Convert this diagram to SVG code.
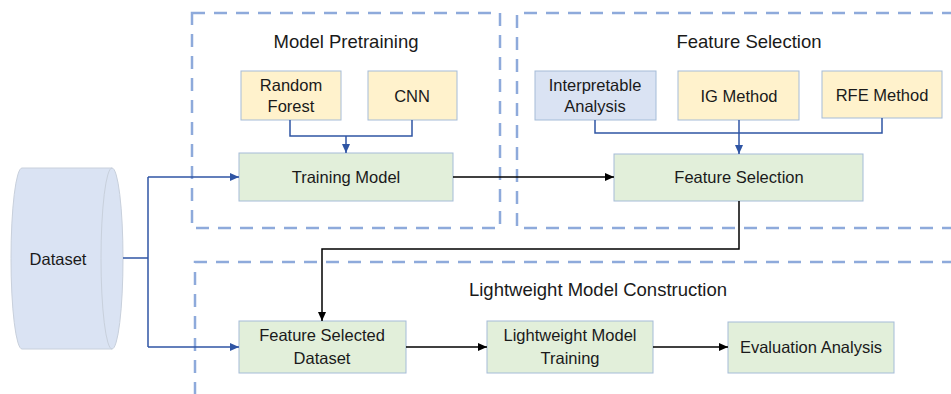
<svg xmlns="http://www.w3.org/2000/svg" width="951" height="394" viewBox="0 0 951 394">
<defs>
<style>
.grp{fill:none;stroke:#8eaadb;stroke-width:2.5;stroke-dasharray:13,9}
.box{stroke:#a5bcd8;stroke-width:1}
.g{fill:#e2efda}
.y{fill:#fff2cc}
.b{fill:#dae3f3}
text{font-family:"Liberation Sans",Arial,sans-serif;font-size:16.5px;fill:#1a1a1a;text-anchor:middle}
.t{font-size:18.5px}
.bl{fill:none;stroke:#2f55a4;stroke-width:1.5}
.bk{fill:none;stroke:#000;stroke-width:1.5}
</style>
<marker id="ab" markerWidth="10" markerHeight="10" refX="9" refY="5" orient="auto" markerUnits="userSpaceOnUse"><path d="M0,1 L9,5 L0,9 z" fill="#2f55a4"/></marker>
<marker id="ak" markerWidth="10" markerHeight="10" refX="9" refY="5" orient="auto" markerUnits="userSpaceOnUse"><path d="M0,1 L9,5 L0,9 z" fill="#000"/></marker>
</defs>
<rect width="951" height="394" fill="#fff"/>
<g id="group-pretraining">
<path class="grp" d="M192,13 H500 V228 H192 Z"/>
<text class="t" x="346" y="48">Model Pretraining</text>
</g>
<g id="group-feature">
<path class="grp" d="M955,13 H517 V228 H955"/>
<text class="t" x="749" y="48">Feature Selection</text>
</g>
<g id="group-lightweight">
<path class="grp" d="M955,262 H195 V400"/>
<text class="t" x="598" y="296">Lightweight Model Construction</text>
</g>
<g id="dataset">
<path d="M22,168 H112 A11,90.5 0 0 1 112,349 H22 A11,90.5 0 0 1 22,168 Z" fill="#dae3f3" stroke="#c8d0dc" stroke-width="1"/>
<path d="M112,168 A11,90.5 0 0 0 112,349" fill="none" stroke="#c8d0dc" stroke-width="1"/>
<text x="58" y="265">Dataset</text>
</g>
<g id="random-forest">
<rect class="box y" x="241" y="71" width="100" height="49"/>
<text x="291" y="91">Random</text>
<text x="291" y="112">Forest</text>
</g>
<g id="cnn">
<rect class="box y" x="368" y="71" width="89" height="49"/>
<text x="412" y="102">CNN</text>
</g>
<g id="training-model">
<rect class="box g" x="239" y="153" width="214" height="48"/>
<text x="346" y="183">Training Model</text>
</g>
<g id="interpretable-analysis">
<rect class="box b" x="535" y="71" width="121" height="49"/>
<text x="595" y="91">Interpretable</text>
<text x="595" y="112">Analysis</text>
</g>
<g id="ig-method">
<rect class="box y" x="678" y="71" width="121" height="49"/>
<text x="739" y="102">IG Method</text>
</g>
<g id="rfe-method">
<rect class="box y" x="822" y="71" width="120" height="47"/>
<text x="882" y="101">RFE Method</text>
</g>
<g id="feature-selection">
<rect class="box g" x="614" y="154" width="249" height="47"/>
<text x="739" y="183">Feature Selection</text>
</g>
<g id="feature-selected-dataset">
<rect class="box g" x="239" y="321" width="167" height="52"/>
<text x="322" y="341">Feature Selected</text>
<text x="322" y="364">Dataset</text>
</g>
<g id="lightweight-training">
<rect class="box g" x="487" y="321" width="166" height="52"/>
<text x="570" y="341">Lightweight Model</text>
<text x="570" y="364">Training</text>
</g>
<g id="evaluation-analysis">
<rect class="box g" x="728" y="322" width="166" height="51"/>
<text x="811" y="353">Evaluation Analysis</text>
</g>
<g id="connectors">
<path class="bl" d="M123,258 H148"/>
<path class="bl" d="M148,177 V347"/>
<path class="bl" d="M148,177 H239" marker-end="url(#ab)"/>
<path class="bl" d="M148,347 H239" marker-end="url(#ab)"/>
<path class="bl" d="M290,120 V136 H412 V120"/>
<path class="bl" d="M346,136 V153" marker-end="url(#ab)"/>
<path class="bl" d="M595,120 V133 H882 V118"/>
<path class="bl" d="M739,120 V154" marker-end="url(#ab)"/>
<path class="bk" d="M453,177 H614" marker-end="url(#ak)"/>
<path class="bk" d="M739,201 V249 H322 V321" marker-end="url(#ak)"/>
<path class="bk" d="M406,347 H487" marker-end="url(#ak)"/>
<path class="bk" d="M653,347 H728" marker-end="url(#ak)"/>
</g>
</svg>
